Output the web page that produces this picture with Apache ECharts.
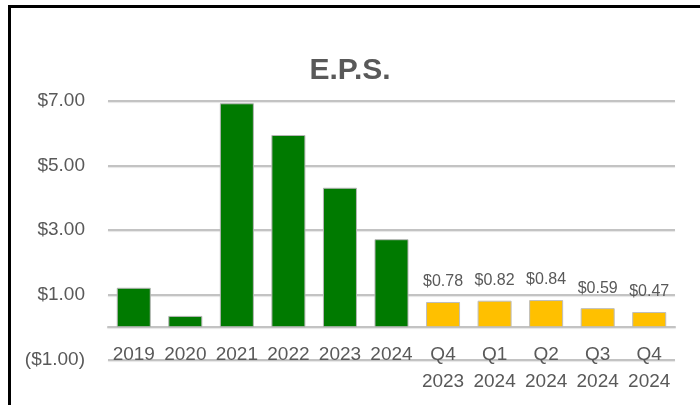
<!DOCTYPE html>
<html>
<head>
<meta charset="utf-8">
<script src="https://cdn.jsdelivr.net/npm/echarts@6/dist/echarts.min.js"></script>
<style>
html,body{margin:0;padding:0;background:#fff;}
#chart{width:700px;height:405px;}
</style>
</head>
<body>
<div id="chart"></div>
<script>
var categories = ['2019', '2020', '2021', '2022', '2023', '2024', 'Q4\n2023', 'Q1\n2024', 'Q2\n2024', 'Q3\n2024', 'Q4\n2024'];
var annualValues = [1.22, 0.35, 6.92, 5.94, 4.31, 2.72];
var quarterlyValues = [0.78, 0.82, 0.84, 0.59, 0.47];
var yTicks = [-1, 1, 3, 5, 7];

var nAnnual = annualValues.length;
var nQuarter = quarterlyValues.length;
var annualData = annualValues.concat(new Array(nQuarter).fill('-'));
var quarterData = new Array(nAnnual).fill('-').concat(quarterlyValues);

function money(v) {
  return v < 0 ? '($' + Math.abs(v).toFixed(2) + ')' : '$' + v.toFixed(2);
}

var gridLine = {
  color: '#c3c3c3',
  width: 2,
  shadowColor: 'rgba(0,0,0,0.10)',
  shadowOffsetY: 1,
  shadowBlur: 1
};

var chart = echarts.init(document.getElementById('chart'), null, {renderer: 'canvas'});
chart.setOption({
  backgroundColor: '#ffffff',
  animation: false,
  title: {
    text: 'E.P.S.',
    left: 'center',
    top: 51,
    textStyle: {
      fontFamily: 'Liberation Sans',
      fontSize: 30,
      fontWeight: 'bold',
      color: '#595959'
    }
  },
  graphic: [{
    type: 'rect',
    shape: {x: 9.5, y: 6.5, width: 720, height: 420},
    style: {fill: 'none', stroke: '#000', lineWidth: 3},
    silent: true,
    z: 100
  }],
  grid: {left: 108, right: 25, top: 100.7, bottom: 45.4, containLabel: false, outerBoundsMode: 'none'},
  xAxis: {
    type: 'category',
    data: categories,
    axisLine: {show: true, onZero: true, lineStyle: gridLine},
    axisTick: {show: false},
    axisLabel: {
      interval: 0,
      margin: -18.5,
      fontFamily: 'Liberation Sans',
      fontSize: 19,
      lineHeight: 27,
      color: '#595959'
    },
    splitLine: {show: false}
  },
  yAxis: {
    type: 'value',
    min: yTicks[0],
    max: yTicks[yTicks.length - 1],
    interval: 2,
    axisLine: {show: false},
    axisTick: {show: false},
    axisLabel: {
      margin: 23,
      fontFamily: 'Liberation Sans',
      fontSize: 19,
      color: '#595959',
      formatter: function (v) { return money(v); }
    },
    splitLine: {show: true, showMinLine: true, showMaxLine: true, lineStyle: gridLine}
  },
  series: [{
    name: 'Annual',
    type: 'bar',
    stack: 'eps',
    data: annualData,
    barCategoryGap: '34%',
    itemStyle: {color: '#007a00', borderColor: '#b5b5b5', borderWidth: 1}
  }, {
    name: 'Quarterly',
    type: 'bar',
    stack: 'eps',
    data: quarterData,
    barCategoryGap: '34%',
    itemStyle: {color: '#ffc000', borderColor: '#bdbdbd', borderWidth: 1},
    label: {
      show: true,
      position: 'top',
      distance: 12,
      fontFamily: 'Liberation Sans',
      fontSize: 16,
      color: '#595959',
      formatter: function (p) { return money(p.value); }
    }
  }]
});
</script>
</body>
</html>
